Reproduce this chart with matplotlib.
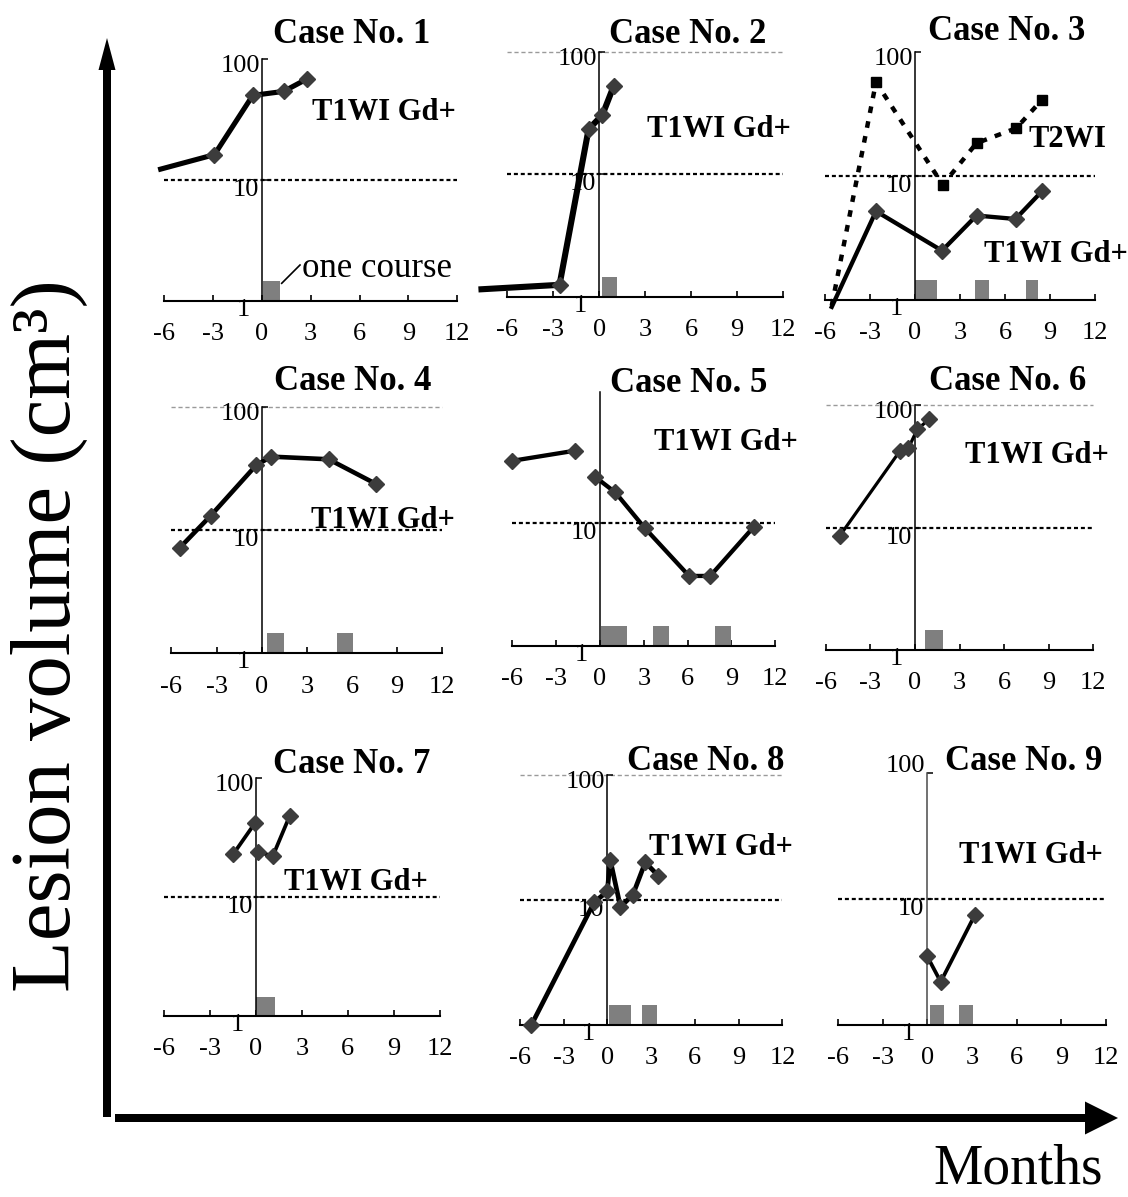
import numpy as np
import matplotlib
matplotlib.use('Agg')
import matplotlib.pyplot as plt
from matplotlib.ticker import NullLocator, FixedLocator, NullFormatter
from matplotlib.patches import FancyArrow

plt.rcParams['font.family'] = ['Liberation Serif', 'DejaVu Serif']
plt.rcParams['axes.unicode_minus'] = False

nan = np.nan

# ---------------- data (months, lesion volume cm^3) ----------------
c1_months = [-6.2, -2.9, -0.55, 1.35, 2.8]
c1_volume = [12.3, 16.2, 50.0, 54.0, 68.7]
c1_marked = [1, 2, 3, 4]
c1_course_start = [0.1]
c1_course_len = [1.0]

c2_months = [-7.7, -2.6, -0.7, 0.2, 0.95]
c2_volume = [1.15, 1.25, 23.3, 30.4, 52.8]
c2_marked = [1, 2, 3, 4]
c2_course_start = [0.2]
c2_course_len = [0.95]

c3_months = [-5.55, -2.6, 1.8, 4.1, 6.7, 8.45]
c3_volume = [0.88, 5.2, 2.5, 4.8, 4.5, 7.5]
c3_marked = [1, 2, 3, 4, 5]
c3_t2_months = [-5.55, -2.6, 1.85, 4.1, 6.75, 8.45]
c3_t2_volume = [0.9, 57.0, 8.5, 18.4, 24.3, 41.0]
c3_t2_marked = [1, 2, 3, 4, 5]
c3_course_start = [0.0, 4.0, 7.4]
c3_course_len = [1.45, 0.9, 0.8]

c4_months = [-5.45, -3.4, -0.35, 0.65, 4.45, 7.6]
c4_volume = [7.2, 13.1, 34.0, 39.7, 37.8, 23.8]
c4_marked = [0, 1, 2, 3, 4, 5]
c4_course_start = [0.35, 5.0]
c4_course_len = [1.15, 1.05]

c5_months = [-6.05, -1.7, nan, -0.35, 1.05, 3.05, 6.1, 7.55, 10.55]
c5_volume = [31.7, 38.4, nan, 23.6, 17.6, 9.1, 3.7, 3.7, 9.3]
c5_marked = [0, 1, 3, 4, 5, 6, 7, 8]
c5_course_start = [0.05, 3.65, 7.9]
c5_course_len = [1.8, 1.1, 1.1]

c6_months = [-5.05, -1.0, -0.45, 0.15, 0.95]
c6_volume = [8.6, 42.4, 44.3, 63.2, 76.4]
c6_marked = [0, 1, 2, 3, 4]
c6_course_start = [0.7]
c6_course_len = [1.2]

c7_months = [-1.5, -0.05, nan, 0.1, 1.1, 2.2]
c7_volume = [22.8, 42.1, nan, 24.0, 22.1, 48.0]
c7_marked = [0, 1, 3, 4, 5]
c7_course_start = [0.0]
c7_course_len = [1.25]

c8_months = [-5.2, -0.9, 0.0, 0.2, 0.9, 1.75, 2.6, 3.5]
c8_volume = [1.0, 9.6, 11.7, 21.0, 8.8, 11.0, 20.0, 15.6]
c8_marked = [0, 1, 2, 3, 4, 5, 6, 7]
c8_course_start = [0.15, 2.4]
c8_course_len = [1.45, 1.0]

c9_months = [0.0, 0.9, 3.2]
c9_volume = [3.5, 2.2, 7.5]
c9_marked = [0, 1, 2]
c9_course_start = [0.2, 2.1]
c9_course_len = [0.9, 0.95]

case_titles = ['Case No. %d' % i for i in range(1, 10)]
xtick_vals = [-6, -3, 0, 3, 6, 9, 12]
xtick_labels = ['-6', '-3', '0', '3', '6', '9', '12']
ytick_vals = [1, 10, 100]
ytick_labels = ['1', '10', '100']
course_top = 1.45
ref_level = 10
upper_level = 100
t1_label = 'T1WI Gd+'
t2_label = 'T2WI'

cases = [
    (c1_months, c1_volume, c1_marked, c1_course_start, c1_course_len),
    (c2_months, c2_volume, c2_marked, c2_course_start, c2_course_len),
    (c3_months, c3_volume, c3_marked, c3_course_start, c3_course_len),
    (c4_months, c4_volume, c4_marked, c4_course_start, c4_course_len),
    (c5_months, c5_volume, c5_marked, c5_course_start, c5_course_len),
    (c6_months, c6_volume, c6_marked, c6_course_start, c6_course_len),
    (c7_months, c7_volume, c7_marked, c7_course_start, c7_course_len),
    (c8_months, c8_volume, c8_marked, c8_course_start, c8_course_len),
    (c9_months, c9_volume, c9_marked, c9_course_start, c9_course_len),
]

# ---------------- layout (pixels) ----------------
W, H = 1128, 1197
# x of month 0, px per month, y of volume 1, px per decade
geom = [
    (261.7, 16.3, 301.0, 121.0),
    (599.3, 15.3, 296.7, 122.5),
    (915.0, 15.0, 300.0, 124.0),
    (261.7, 15.05, 653.3, 123.0),
    (600.0, 14.6, 646.0, 123.3),
    (915.0, 14.85, 650.0, 122.5),
    (256.0, 15.3, 1016.0, 119.0),
    (607.3, 14.6, 1025.0, 125.0),
    (927.3, 14.9, 1025.0, 126.0),
]
line_widths = [3.7, 4.4, 3.1, 3.3, 3.1, 2.3, 2.7, 3.4, 2.7]
gray_top_line = [False, True, False, True, False, True, False, True, False]
yaxis_top = [100, 100, 100, 100, 115, 100, 100, 100, 100]
show_100 = [True, True, True, True, False, True, True, True, True]
title_pos = [(352, 43), (688, 43), (1007, 40), (353, 390), (689, 392),
             (1008, 390), (352, 773), (706, 770), (1024, 770)]
t1_pos = [(384, 120), (719, 137), (1056, 262), (383, 528), (726, 450),
          (1037, 463), (356, 890), (721, 855), (1031, 863)]
t2_pos = (1067, 147)

XLO, XHI = -8.5, 12.6
YLO, YHI = 0.7, 130

fig = plt.figure(figsize=(W / 100, H / 100), dpi=100)

# overlay for big arrows
ov = fig.add_axes([0, 0, 1, 1])
ov.set_xlim(0, W)
ov.set_ylim(H, 0)
ov.axis('off')
ov.add_patch(FancyArrow(107, 1117, 0, -1079, width=8, head_width=17,
                        head_length=32, length_includes_head=True,
                        color='black', lw=0))
ov.add_patch(FancyArrow(115, 1118, 1003, 0, width=8, head_width=33,
                        head_length=33, length_includes_head=True,
                        color='black', lw=0))
ov.plot([281.7, 300], [283.3, 265], color='black', lw=1.2)

marker_col = '#3c3c3c'

for i, (x0, s, yax, d) in enumerate(geom):
    left = x0 + XLO * s
    right = x0 + XHI * s
    top = yax - np.log10(YHI) * d
    bottom = yax - np.log10(YLO) * d
    ax = fig.add_axes([left / W, 1 - bottom / H, (right - left) / W,
                       (bottom - top) / H])
    ax.patch.set_visible(False)
    ax.set_xlim(XLO, XHI)
    ax.set_yscale('log')
    ax.set_ylim(YLO, YHI)
    for sp in ['top', 'right']:
        ax.spines[sp].set_visible(False)
    ax.spines['bottom'].set_position(('data', 1))
    ax.spines['bottom'].set_bounds(-6, 12)
    ax.spines['bottom'].set_linewidth(1.5)
    ax.spines['left'].set_position(('data', 0))
    ax.spines['left'].set_bounds(1, yaxis_top[i])
    ax.spines['left'].set_linewidth(1.1)
    if i == 8:
        ax.spines['left'].set_color('#4a4a4a')
    ax.set_xticks(xtick_vals)
    ax.set_xticklabels(xtick_labels, fontsize=19)
    ax.tick_params(axis='x', direction='in', length=4.5, width=1.2, pad=16)
    ax.xaxis.set_minor_locator(NullLocator())
    yt = [10, 100] if show_100[i] else [10]
    ax.yaxis.set_major_locator(FixedLocator(yt))
    ax.yaxis.set_minor_locator(NullLocator())
    ax.yaxis.set_major_formatter(NullFormatter())
    ax.tick_params(axis='y', direction='in', length=4, width=1.1)

    # y labels
    offs = {1: (-8.6, -6.5), 10: (-2.2, -7.2), 100: (-1.4, -5.0)}
    if i == 8:
        offs[100] = (-1.4, 5.0)
    for v, lab in zip(ytick_vals, ytick_labels):
        if v == 100 and not show_100[i]:
            continue
        ax.annotate(lab, xy=(0, v), xytext=offs[v], textcoords='offset points',
                    ha='right', va='center', fontsize=19)

    # reference lines
    ax.hlines(ref_level, -6, 12, colors='black', lw=1.6,
              linestyles=[(0, (1.8, 1.3))], zorder=1)
    if gray_top_line[i]:
        ax.hlines(upper_level, -6, 12, colors='#9a9a9a', lw=1.0,
                  linestyles=[(0, (3, 2))], zorder=1)

    months, vol, marked, cs, cl = cases[i]
    ax.bar(cs, [course_top - 1] * len(cs), width=cl, bottom=1, align='edge',
           color='#7f7f7f', zorder=2)

    if i == 2:
        ax.plot(c3_t2_months, c3_t2_volume, color='black', lw=3.2,
                ls=(0, (1.5, 1.9)), marker='s', ms=6.5, mfc='black',
                mec='black', markevery=c3_t2_marked, clip_on=False, zorder=3)
    ax.plot(months, vol, color='black', lw=line_widths[i], marker='D',
            ms=8, mfc=marker_col, mec=marker_col, markevery=marked,
            clip_on=False, zorder=4)

for i in range(9):
    tx, ty = title_pos[i]
    fig.text(tx / W, 1 - ty / H, case_titles[i], fontsize=25,
             fontweight='bold', ha='center', va='baseline')
    lx, ly = t1_pos[i]
    fig.text(lx / W, 1 - ly / H, t1_label, fontsize=22, fontweight='bold',
             ha='center', va='baseline')
fig.text(t2_pos[0] / W, 1 - t2_pos[1] / H, t2_label, fontsize=22,
         fontweight='bold', ha='center', va='baseline')

fig.text(301.7 / W, 1 - 276.7 / H, 'one course', fontsize=25,
         ha='left', va='baseline')

fig.text(49 / W, 1 - 636 / H, 'Lesion volume (cm\u00b3)', rotation=90,
         fontsize=61, ha='center', va='center')
fig.text(1018 / W, 1 - 1196 / H, 'Months', fontsize=40, ha='center',
         va='bottom')

fig.savefig('out.png', dpi=100)
